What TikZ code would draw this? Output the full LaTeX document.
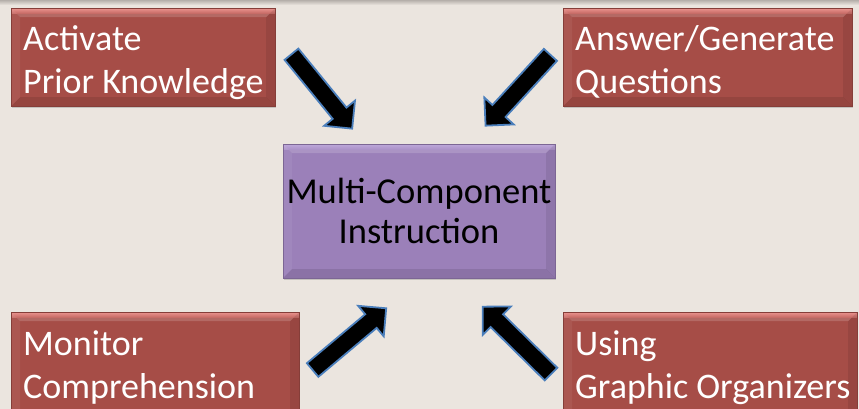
\documentclass[tikz,border=0pt]{standalone}
\usepackage{fontspec}
\setmainfont{Carlito}
\usetikzlibrary{shapes.arrows,shadows}
\definecolor{bg}{HTML}{EBE5DF}
\definecolor{topband}{HTML}{B5AFAA}
\definecolor{redbase}{HTML}{A64D47}
\definecolor{redtop}{HTML}{E68F8A}
\definecolor{redmid}{HTML}{C66A65}
\definecolor{purbase}{HTML}{9B80B9}
\definecolor{purtop}{HTML}{BCA6D9}
\definecolor{purmid}{HTML}{AC93C9}
\definecolor{arrowline}{HTML}{4A7EBB}
\tikzset{
  bevel/.style 2 args={path picture={
    \fill[white,opacity=.16] (path picture bounding box.north west) -- (path picture bounding box.north east)
      -- ([xshift=-9pt,yshift=-9pt]path picture bounding box.north east) -- ([xshift=9pt,yshift=-9pt]path picture bounding box.north west) -- cycle;
    \shade[top color=#1, bottom color=#2] ([yshift=-0.5pt]path picture bounding box.north west) rectangle ([yshift=-5pt]path picture bounding box.north east);
    \fill[white,opacity=.06] (path picture bounding box.north west) -- (path picture bounding box.south west)
      -- ([xshift=9pt,yshift=9pt]path picture bounding box.south west) -- ([xshift=9pt,yshift=-9pt]path picture bounding box.north west) -- cycle;
    \fill[black,opacity=.08] (path picture bounding box.north east) -- (path picture bounding box.south east)
      -- ([xshift=-9pt,yshift=9pt]path picture bounding box.south east) -- ([xshift=-9pt,yshift=-9pt]path picture bounding box.north east) -- cycle;
    \fill[black,opacity=.10] (path picture bounding box.south west) -- (path picture bounding box.south east)
      -- ([xshift=-9pt,yshift=9pt]path picture bounding box.south east) -- ([xshift=9pt,yshift=9pt]path picture bounding box.south west) -- cycle;
  }},
  redbox/.style={rectangle, fill=redbase, bevel={redtop}{redmid}, draw=redbase!80!black, line width=0.4pt,
    drop shadow={opacity=.35, shadow xshift=1pt, shadow yshift=-2pt},
    inner sep=0pt, anchor=north west},
  purbox/.style={rectangle, fill=purbase, bevel={purtop}{purmid}, draw=purbase!80!black, line width=0.4pt,
    drop shadow={opacity=.35, shadow xshift=1pt, shadow yshift=-2pt},
    text=black, font=\fontsize{36.5}{40}\selectfont, align=center, inner sep=0pt},
  blockarrow/.style={single arrow, fill=black, draw=arrowline, line width=1.8pt,
    inner xsep=0pt, inner ysep=8pt, single arrow head extend=11pt, single arrow tip angle=90,
    minimum height=96pt},
  boxtext/.style={text=white, font=\fontsize{36}{43}\selectfont, align=left, anchor=north west, inner sep=0pt}
}
\begin{document}
\begin{tikzpicture}[x=1pt,y=-1pt]
\useasboundingbox (0,0) rectangle (859,409);
\fill[bg] (0,0) rectangle (859,409);
\shade[top color=topband, bottom color=bg] (0,0) rectangle (859,5);
% boxes
\node[redbox, minimum width=264pt, minimum height=98pt] (b1) at (11,8) {};
\node[redbox, minimum width=289pt, minimum height=98pt] (b2) at (563,8) {};
\node[redbox, minimum width=288pt, minimum height=110pt] (b3) at (11,312) {};
\node[redbox, minimum width=294pt, minimum height=110pt] (b4) at (563,312) {};
\node[purbox, minimum width=272pt, minimum height=134pt] (c) at (419,211) {Multi-Component\\Instruction};
% texts
\node[boxtext] (t1) at ([xshift=12pt,yshift=-12pt]b1.north west) {\rule{0pt}{30pt}Activate\\Prior Knowledge};
\node[boxtext] (t2) at ([xshift=12pt,yshift=-12pt]b2.north west) {\rule{0pt}{30pt}Answer/Generate\\Questions};
\node[boxtext] (t3) at ([xshift=12pt,yshift=-13pt]b3.north west) {\rule{0pt}{30pt}Monitor\\Comprehension};
\node[boxtext] (t4) at ([xshift=12pt,yshift=-13pt]b4.north west) {\rule{0pt}{30pt}Using\\Graphic Organizers};
% arrows
\node[blockarrow, rotate=-50.8] (a1) at (319,88) {};
\node[blockarrow, rotate=-132.5] (a2) at (521,87) {};
\node[blockarrow, rotate=40] (a3) at (346,342) {};
\node[blockarrow, rotate=135.4] (a4) at (520,343.5) {};
\end{tikzpicture}
\end{document}
